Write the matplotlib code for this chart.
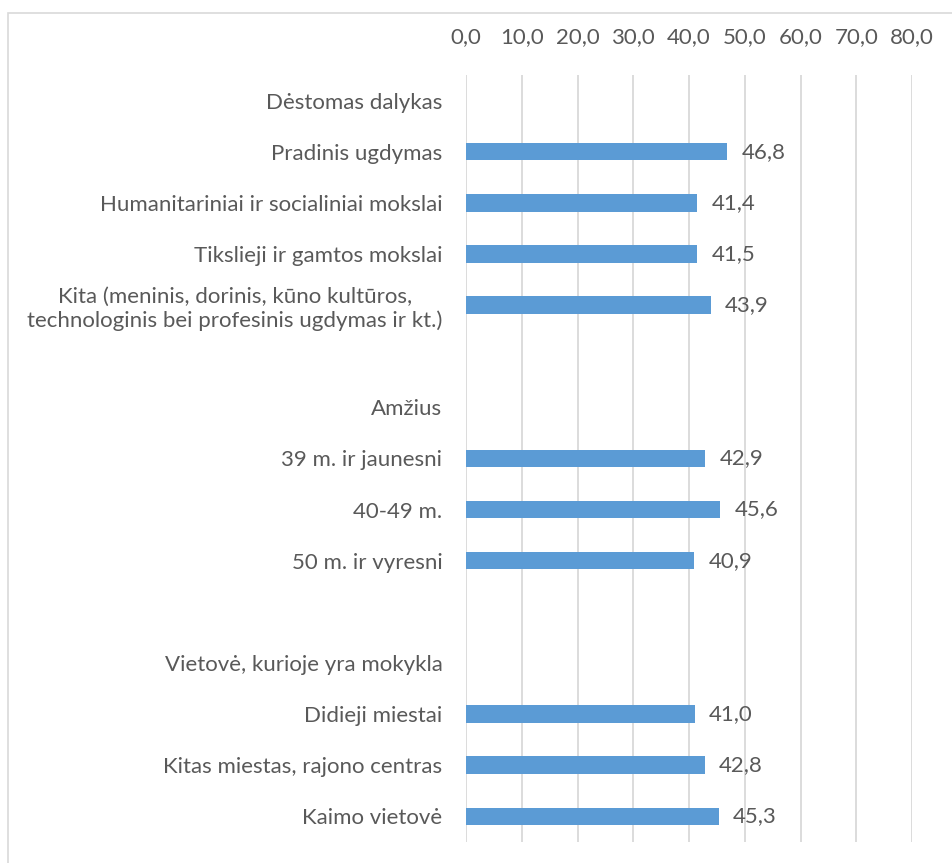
import numpy as np
import matplotlib
matplotlib.use("Agg")
import matplotlib.pyplot as plt
from matplotlib.patches import Rectangle

## Data ##
categories = [
    'Dėstomas dalykas',
    'Pradinis ugdymas',
    'Humanitariniai ir socialiniai mokslai',
    'Tikslieji ir gamtos mokslai',
    'Kita (meninis, dorinis, kūno kultūros,\ntechnologinis bei profesinis ugdymas ir kt.)',
    '',
    'Amžius',
    '39 m. ir jaunesni',
    '40-49 m.',
    '50 m. ir vyresni',
    '',
    'Vietovė, kurioje yra mokykla',
    'Didieji miestai',
    'Kitas miestas, rajono centras',
    'Kaimo vietovė',
]
values = [None, 46.8, 41.4, 41.5, 43.9, None, None, 42.9, 45.6, 40.9,
          None, None, 41.0, 42.8, 45.3]
x_ticks = [0, 10, 20, 30, 40, 50, 60, 70, 80]

bar_color = '#5B9BD5'
text_color = '#595959'
grid_color = '#D9D9D9'

plt.rcParams['font.family'] = ['Lato', 'DejaVu Sans']

fig = plt.figure(figsize=(9.52, 8.63), dpi=100)
ax = fig.add_axes([0.4895, 0.0245, 0.4685, 0.8885])

y_pos = np.arange(len(categories))
for y, v in zip(y_pos, values):
    if v is None:
        continue
    ax.barh(y, v, height=0.34, color=bar_color, zorder=3)
    ax.text(v + 2.6, y, ('%.1f' % v).replace('.', ','), va='center', ha='left',
            fontsize=16, color=text_color)

ax.set_xlim(0, 80)
ax.set_ylim(len(categories) - 0.5, -0.5)
ax.set_xticks(x_ticks)
ax.set_xticklabels([('%.1f' % t).replace('.', ',') for t in x_ticks])
ax.xaxis.tick_top()
ax.set_yticks(y_pos)
ax.set_yticklabels(categories, multialignment='center')
ax.tick_params(axis='x', length=0, pad=20, labelsize=16, labelcolor=text_color)
ax.tick_params(axis='y', length=0, pad=17, labelsize=16, labelcolor=text_color)
ax.grid(True, axis='x', color=grid_color, linewidth=1.3, zorder=0)
for s in ax.spines.values():
    s.set_visible(False)

# outer chart border
fig.patches.append(Rectangle((8 / 952, -0.05), 1.0, 1 - 13 / 863 + 0.05,
                             transform=fig.transFigure, fill=False,
                             edgecolor=grid_color, linewidth=1.2))

fig.savefig('out.png', dpi=100)
